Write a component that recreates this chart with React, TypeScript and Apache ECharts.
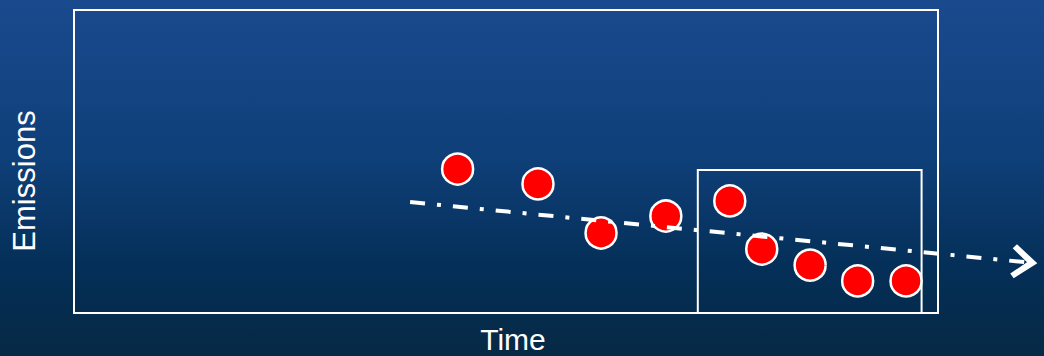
import React, { useEffect, useRef } from "react";
import * as echarts from "echarts";

// Observations (x: time, y: emissions), on a 0–100 scale of the plot frame
const timeValues = [44.4, 53.7, 61.0, 68.5, 75.9, 79.6, 85.2, 90.7, 96.3];
const emissionValues = [47.5, 42.6, 26.4, 32.0, 37.0, 21.1, 15.8, 10.6, 10.6];

// Trend line (start / projected end)
const trendStart = [38.9, 36.6];
const trendEnd = [110.0, 16.8];

// Plot frame and highlighted recent window
const frameX = [0, 100];
const frameY = [0, 100];
const windowX = [72.2, 98.1];
const windowY = [0, 47.2];

const xAxisTitle = "Time";
const yAxisTitle = "Emissions";

export default function App() {
  const ref = useRef<HTMLDivElement>(null);

  useEffect(() => {
    if (!ref.current) return;
    const chart = echarts.init(ref.current, null, { renderer: "svg" });
    const points = timeValues.map((t, i) => [t, emissionValues[i]]);
    const font = "Liberation Sans, Arial, sans-serif";

    chart.setOption({
      animation: false,
      backgroundColor: {
        type: "linear",
        x: 0,
        y: 0,
        x2: 0,
        y2: 1,
        colorStops: [
          { offset: 0, color: "#1a4a8e" },
          { offset: 0.45, color: "#0f3f78" },
          { offset: 0.75, color: "#042f58" },
          { offset: 1, color: "#062944" },
        ],
      },
      grid: {
        left: 74,
        top: 10,
        width: 967.68,
        height: 303,
        show: false,
      },
      xAxis: {
        type: "value",
        min: 0,
        max: 112,
        show: false,
      },
      yAxis: {
        type: "value",
        min: 0,
        max: 100,
        show: false,
      },
      graphic: [
        {
          type: "text",
          x: 24,
          y: 181,
          rotation: Math.PI / 2,
          style: {
            text: yAxisTitle,
            fill: "#ffffff",
            font: `31px ${font}`,
            align: "center",
            verticalAlign: "middle",
          },
        },
        {
          type: "text",
          x: 513,
          y: 339,
          style: {
            text: xAxisTitle,
            fill: "#ffffff",
            font: `30px ${font}`,
            align: "center",
            verticalAlign: "middle",
          },
        },
      ],
      series: [
        {
          type: "scatter",
          data: points,
          clip: false,
          symbol: "circle",
          symbolSize: 31,
          itemStyle: {
            color: "#ff0000",
            borderColor: "#ffffff",
            borderWidth: 2.5,
            opacity: 1,
          },
          markArea: {
            silent: true,
            itemStyle: {
              color: "rgba(0,0,0,0)",
              borderColor: "#ffffff",
              borderWidth: 2,
            },
            data: [
              [
                { coord: [frameX[0], frameY[1]] },
                { coord: [frameX[1], frameY[0]] },
              ],
              [
                { coord: [windowX[0], windowY[1]] },
                { coord: [windowX[1], windowY[0]] },
              ],
            ],
          },
          markLine: {
            silent: true,
            symbol: ["none", "path://M14,0 L28,17 L24.5,20 L14,8 L3.5,20 L0,17 Z"],
            symbolSize: [34, 26],
            label: { show: false },
            lineStyle: {
              color: "#ffffff",
              width: 4,
              type: [15, 12, 4, 12],
              opacity: 1,
            },
            itemStyle: { color: "#ffffff" },
            data: [[{ coord: trendStart }, { coord: trendEnd }]],
          },
        },
      ],
    });

    return () => chart.dispose();
  }, []);

  return (
    <div
      ref={ref}
      style={{ position: "fixed", left: 0, top: 0, width: 1044, height: 356 }}
    />
  );
}
